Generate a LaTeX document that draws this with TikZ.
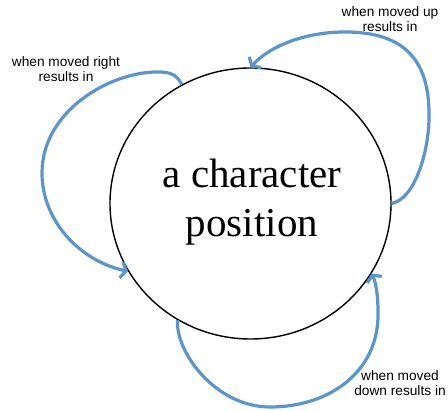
\documentclass[tikz,border=0pt]{standalone}
\usepackage{fontspec}
\setmainfont{Liberation Serif}
\newfontfamily\labelfont{Liberation Sans}
\usetikzlibrary{shapes.geometric,arrows.meta}
\definecolor{arrowblue}{RGB}{90,150,205}
\begin{document}
\begin{tikzpicture}[x=1pt,y=1pt,
  state/.style={ellipse, draw, line width=1.4pt, minimum width=281pt, minimum height=271pt, inner sep=0pt},
  loopline/.style={draw=arrowblue, line width=3.2pt, -{Straight Barb[length=5pt,width=16pt]}},
  lbl/.style={font=\labelfont\fontsize{13.7}{15}\selectfont, align=center, anchor=base, inner sep=0pt},
  bigtext/.style={font=\fontsize{41}{49}\selectfont, align=center, anchor=base, inner sep=0pt}]
\useasboundingbox (0,0) rectangle (448,411);
\node[state] (c) at (250.5,207.5) {};
\node[bigtext] (t) at (252,174) {a character\\position};
\node[lbl] (l1) at (66,329) {when moved right\\results in};
\node[lbl] (l2) at (390,379) {when moved up\\results in};
\node[lbl] (l3) at (400,15) {when moved\\down results in};
\draw[loopline] (c.120) .. controls (176,338) and (168,339) .. (157,339)
  .. controls (110,339) and (42,300) .. (42,238)
  .. controls (42,190) and (80,150) .. (c.209);
\draw[loopline] (c.0) .. controls (415,212) and (429,260) .. (429,294)
  .. controls (430,355) and (400,379) .. (345,379)
  .. controls (305,379) and (270,365) .. (c.90);
\draw[loopline] (c.238) .. controls (175,60) and (215,4) .. (270,4)
  .. controls (330,4) and (380,40) .. (378,100)
  .. controls (378,115) and (376,128) .. (c.330);
\end{tikzpicture}
\end{document}
